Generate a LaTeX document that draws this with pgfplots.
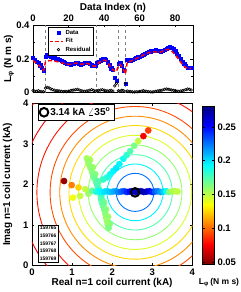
\documentclass[border=0pt]{standalone}
\usepackage{pgfplots}
\usepackage{pgfplotstable}
\pgfplotsset{compat=1.18}
\usepackage{fontspec}
\setmainfont{Liberation Sans}
\newcommand{\lphi}{L\textsubscript{φ}}

\pgfplotstableread{
n d f r
0 0.205 0.190 0.012
1 0.195 0.182 0.010
2 0.185 0.174 0.008
3 0.175 0.165 0.012
4 0.162 0.155 0.008
5 0.148 0.143 0.006
6 0.133 0.132 0.006
7 0.212 0.182 0.027
8 0.222 0.187 0.032
9 0.220 0.189 0.028
10 0.216 0.190 0.023
11 0.210 0.189 0.018
12 0.205 0.187 0.015
13 0.200 0.185 0.012
14 0.198 0.183 0.012
15 0.193 0.180 0.010
16 0.188 0.177 0.008
17 0.182 0.174 0.006
18 0.176 0.171 0.008
19 0.172 0.169 0.006
20 0.170 0.168 0.009
21 0.168 0.167 0.012
22 0.170 0.169 0.014
23 0.173 0.172 0.016
24 0.176 0.174 0.018
25 0.175 0.174 0.020
26 0.171 0.171 0.016
27 0.168 0.168 0.012
28 0.171 0.169 0.010
29 0.175 0.172 0.008
30 0.178 0.173 0.010
31 0.176 0.172 0.012
32 0.170 0.167 0.015
33 0.163 0.162 0.018
34 0.158 0.157 0.014
35 0.160 0.157 0.010
36 0.175 0.168 0.012
37 0.185 0.176 0.014
38 0.192 0.184 0.016
39 0.198 0.190 0.018
40 0.200 0.192 0.015
41 0.195 0.189 0.012
42 0.180 0.178 0.010
43 0.162 0.161 0.012
44 0.145 0.146 0.014
45 0.135 0.136 0.010
46 0.089 0.127 0.040
47 0.073 0.125 0.055
48 0.170 0.161 0.012
49 0.178 0.167 0.010
50 0.158 0.152 0.014
51 0.133 0.135 0.012
52 0.055 0.110 0.055
53 0.195 0.180 0.010
54 0.192 0.182 0.008
55 0.190 0.186 0.006
56 0.195 0.191 0.005
57 0.200 0.196 0.004
58 0.205 0.201 0.006
59 0.210 0.206 0.005
60 0.215 0.211 0.007
61 0.220 0.216 0.009
62 0.225 0.222 0.012
63 0.232 0.228 0.010
64 0.238 0.232 0.008
65 0.242 0.236 0.006
66 0.245 0.239 0.005
67 0.248 0.241 0.004
68 0.250 0.242 0.006
69 0.252 0.241 0.008
70 0.250 0.239 0.010
71 0.248 0.238 0.012
72 0.245 0.241 0.014
73 0.250 0.246 0.016
74 0.255 0.250 0.020
75 0.260 0.254 0.022
76 0.265 0.256 0.020
77 0.270 0.254 0.018
78 0.268 0.246 0.016
79 0.258 0.236 0.014
80 0.245 0.224 0.012
81 0.232 0.211 0.010
82 0.218 0.196 0.008
83 0.200 0.182 0.010
84 0.185 0.168 0.012
85 0.170 0.156 0.015
86 0.158 0.148 0.018
87 0.150 0.143 0.022
88 0.148 0.142 0.020
89 0.150 0.144 0.016
}\topdata

\pgfplotstableread{
x y L
1.60 1.82 0.175
1.41 1.77 0.158
1.20 1.71 0.148
1.02 1.67 0.138
1.37 2.64 0.155
1.45 2.60 0.155
1.40 2.56 0.158
1.43 2.48 0.160
1.52 2.42 0.158
1.46 2.40 0.160
1.50 2.30 0.162
1.58 2.25 0.162
1.53 2.22 0.165
1.56 2.14 0.168
1.64 2.08 0.168
1.60 2.05 0.170
1.63 1.97 0.175
1.67 1.88 0.180
1.70 1.80 0.185
1.73 1.72 0.180
1.75 1.62 0.175
1.80 1.55 0.165
1.77 1.53 0.170
1.79 1.44 0.168
1.85 1.38 0.160
1.81 1.36 0.165
1.83 1.27 0.162
1.90 1.20 0.158
1.85 1.18 0.160
1.87 1.09 0.158
1.94 1.02 0.162
1.89 1.00 0.160
1.91 0.92 0.165
1.66 2.06 0.175
1.78 2.12 0.180
1.87 2.17 0.185
1.95 2.25 0.190
2.03 2.33 0.195
2.10 2.40 0.198
2.18 2.50 0.195
2.28 2.63 0.190
2.36 2.72 0.183
2.45 2.82 0.175
2.55 2.95 0.165
2.65 3.07 0.150
2.78 3.19 0.075
2.90 3.33 0.090
0.80 2.08 0.052
0.99 1.98 0.105
1.16 1.92 0.125
1.33 1.88 0.150
1.50 1.84 0.170
1.60 1.82 0.185
1.67 1.83 0.190
1.74 1.81 0.195
1.81 1.82 0.200
1.88 1.83 0.202
1.95 1.81 0.205
2.02 1.82 0.210
2.09 1.83 0.215
2.16 1.81 0.222
2.23 1.82 0.228
2.30 1.83 0.235
2.37 1.81 0.242
2.44 1.82 0.250
2.51 1.83 0.258
2.58 1.81 0.265
2.65 1.82 0.270
2.72 1.83 0.270
2.79 1.81 0.268
2.86 1.82 0.265
2.93 1.83 0.258
3.00 1.81 0.245
3.07 1.82 0.232
3.14 1.83 0.222
3.21 1.81 0.215
3.28 1.82 0.205
3.35 1.83 0.190
3.42 1.81 0.165
3.49 1.82 0.155
3.56 1.83 0.152
3.63 1.82 0.150
}\scatdata

\definecolor{cA}{rgb}{0,0.45,1}
\definecolor{cB}{rgb}{0,0.95,1}
\definecolor{cC}{rgb}{0.31,1,0.69}
\definecolor{cD}{rgb}{0.57,1,0.43}
\definecolor{cE}{rgb}{0.85,1,0.15}
\definecolor{cF}{rgb}{1,0.85,0}
\definecolor{cG}{rgb}{1,0.55,0}
\definecolor{cH}{rgb}{1,0.3,0}
\definecolor{cI}{rgb}{1,0.08,0}
\definecolor{cJ}{rgb}{0.92,0,0}
\definecolor{cK}{rgb}{0.8,0,0}

\begin{document}
\begin{tikzpicture}
\pgfplotsset{
  every axis/.append style={
    font=\fontsize{10}{12}\selectfont\bfseries,
    tick label style={font=\fontsize{9.5}{11}\selectfont\bfseries},
    /pgf/number format/assume math mode=true,
    major tick length=2.5pt,
    minor tick length=1.5pt,
    tick style={black, line width=0.4pt},
  },
}
\begin{axis}[
  set layers,
  at={(33pt,199.3pt)}, anchor=south west,
  scale only axis, width=160pt, height=67.7pt,
  xmin=0, xmax=90, ymin=0, ymax=0.4,
  xtick={0,20,40,60,80},
  xticklabel pos=right,
  ytick={0,0.2,0.4}, yticklabels={0,0.2,0.4},
  minor ytick={0.1,0.3},
  scaled y ticks=false,
  xlabel={Data Index (n)},
  xlabel style={at={(axis description cs:0.5,1)}, anchor=center, yshift=17pt},
  ylabel={\lphi\ (N m s)},
  ylabel style={at={(axis description cs:0,0.5)}, anchor=center, yshift=24pt},
  legend style={at={(0.094,0.97)}, anchor=north west, font=\fontsize{6}{6.5}\selectfont\bfseries, inner sep=1pt, row sep=-1.5pt, draw=black},
  legend cell align=left,
]
\addplot[only marks, mark=square*, mark options={fill=blue, draw=blue}, blue, mark size=1.6pt] table[x=n, y=d] {\topdata};
\addlegendentry{Data}
\addplot[on layer=axis foreground, color=red, solid, line width=1.5pt, dash pattern=on 4pt off 2.5pt, mark=none,
  legend image code/.code={\draw[red, line width=1.5pt, dash pattern=on 3.5pt off 2pt] (0cm,0cm) -- (0.45cm,0cm);}] table[x=n, y=f] {\topdata};
\addlegendentry{Fit}
\addplot[only marks, mark=o, black, mark size=1.3pt, line width=0.6pt] table[x=n, y=r] {\topdata};
\addlegendentry{Residual}
\addplot[gray, dashed, forget plot] coordinates {(6.7,0) (6.7,0.4)};
\addplot[gray, dashed, forget plot] coordinates {(35.6,0) (35.6,0.4)};
\addplot[gray, dashed, forget plot] coordinates {(47.8,0) (47.8,0.4)};
\addplot[gray, dashed, forget plot] coordinates {(51.7,0) (51.7,0.4)};
\end{axis}

\begin{axis}[
  at={(32pt,26.7pt)}, anchor=south west,
  scale only axis, width=160.3pt, height=162pt,
  xmin=0, xmax=4, ymin=0, ymax=4,
  xtick={0,1,2,3,4}, ytick={0,1,2,3,4},
  clip mode=global,
  xlabel={Real n=1 coil current (kA)},
  xlabel style={at={(axis description cs:0.5,0)}, anchor=center, yshift=-17.5pt},
  ylabel={Imag n=1 coil current (kA)},
  ylabel style={at={(axis description cs:0,0.5)}, anchor=center, yshift=24.5pt},
  colormap={rjet}{rgb(0pt)=(0.5,0,0); rgb(1pt)=(1,0,0); rgb(3pt)=(1,1,0); rgb(5pt)=(0,1,1); rgb(7pt)=(0,0,1); rgb(8pt)=(0,0,0.5)},
  point meta min=0.047, point meta max=0.281,
  colorbar,
  colorbar shift/.style={},
  colorbar style={
    at={(202pt,186pt)}, anchor=north west,
    scale only axis, width=12pt, height=158pt,
    ytick={0.05,0.1,0.15,0.2,0.25},
    yticklabels={0.05,0.1,0.15,0.2,0.25},
    scaled y ticks=false,
    yticklabel style={font=\fontsize{9.5}{11}\selectfont\bfseries},
  },
  legend style={at={(0.0375,0.995)}, anchor=north west, font=\fontsize{10}{12}\selectfont\bfseries, inner sep=1.5pt, draw=black},
]
\draw[cK, line width=0.9pt] (axis cs:2.572,1.801) circle[radius=3.35];
\draw[cJ, line width=0.9pt] (axis cs:2.572,1.801) circle[radius=2.85];
\draw[cI, line width=0.9pt] (axis cs:2.572,1.801) circle[radius=2.45];
\draw[cH, line width=0.9pt] (axis cs:2.572,1.801) circle[radius=2.12];
\draw[cG, line width=0.9pt] (axis cs:2.572,1.801) circle[radius=1.88];
\draw[cF, line width=0.9pt] (axis cs:2.572,1.801) circle[radius=1.65];
\draw[cE, line width=0.9pt] (axis cs:2.572,1.801) circle[radius=1.41];
\draw[cD, line width=0.9pt] (axis cs:2.572,1.801) circle[radius=1.17];
\draw[cC, line width=0.9pt] (axis cs:2.572,1.801) circle[radius=0.93];
\draw[cB, line width=0.9pt] (axis cs:2.572,1.801) circle[radius=0.70];
\draw[cA, line width=0.9pt] (axis cs:2.572,1.801) circle[radius=0.47];
\addplot[scatter, only marks, mark=*, mark size=3.1pt, point meta=explicit,
  scatter/use mapped color={draw=mapped color, fill=mapped color}, forget plot]
  table[x=x, y=y, meta=L] {\scatdata};
\addplot[only marks, mark=o, mark size=4.3pt, line width=2pt, black] coordinates {(2.572,1.801)};
\addlegendentry{3.14 kA \ensuremath{\angle}35\textsuperscript{o}}
\node[draw=black, line width=0.5pt, fill=white, font=\fontsize{5}{7.6}\selectfont\bfseries, align=left, anchor=south west, inner sep=1.5pt] at (rel axis cs:0.0375,0.02) {159765\\159766\\159767\\159768\\159769};
\end{axis}
\node[font=\fontsize{8.5}{10}\selectfont\bfseries] at (219pt,9pt) {\lphi\,(N m s)};
\pgfresetboundingbox
\path[use as bounding box] (0pt,0pt) rectangle (241pt,292pt);
\end{tikzpicture}
\end{document}
